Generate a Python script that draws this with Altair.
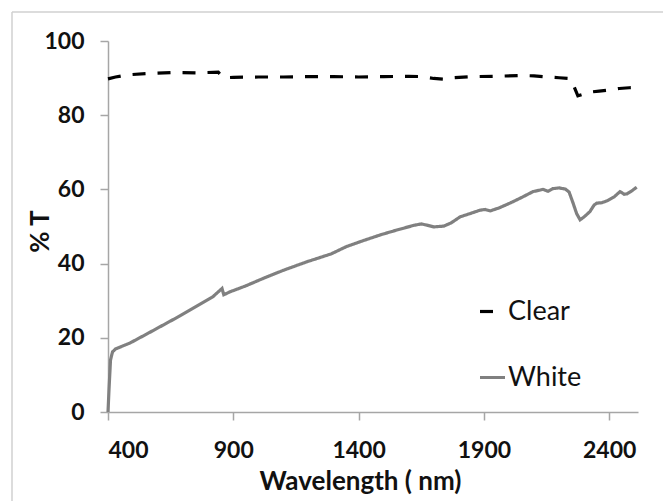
import altair as alt
import pandas as pd

clear_wl = [400, 430, 480, 550, 650, 750, 840, 860, 900, 1000, 1100, 1200, 1300, 1400, 1500,
            1600, 1650, 1700, 1745, 1780, 1850, 1950, 2050, 2100, 2150, 2200, 2240, 2255,
            2275, 2290, 2320, 2360, 2400, 2440, 2480, 2510]
clear_t = [89.8, 90.3, 90.9, 91.2, 91.5, 91.4, 91.6, 90.1, 90.2, 90.3, 90.3, 90.4, 90.4, 90.3, 90.4,
           90.5, 90.4, 89.9, 89.7, 90.1, 90.4, 90.5, 90.7, 90.6, 90.3, 90.1, 89.9, 88.5,
           85.2, 85.5, 86.2, 86.5, 86.8, 87.2, 87.4, 87.5]

white_wl = [400, 404, 410, 418, 430, 488, 554, 687, 819, 855, 862, 887, 950, 1019, 1100, 1194,
            1290, 1352, 1406, 1485, 1550, 1620, 1650, 1670, 1700, 1740, 1770, 1805, 1850, 1885,
            1905, 1925, 1960, 2004, 2050, 2096, 2136, 2156, 2175, 2200, 2225, 2240, 2256, 2270,
            2284, 2300, 2323, 2340, 2351, 2370, 2391, 2420, 2443, 2460, 2471, 2490, 2510]
white_t = [0, 6, 14, 16.2, 17.0, 18.6, 21.0, 25.9, 31.1, 33.3, 31.6, 32.4, 34.0, 36.0, 38.2, 40.5,
           42.6, 44.6, 45.9, 47.7, 49.0, 50.3, 50.7, 50.4, 49.9, 50.1, 51.0, 52.6, 53.6, 54.4,
           54.6, 54.2, 55.0, 56.3, 57.8, 59.4, 60.0, 59.5, 60.2, 60.4, 60.1, 59.3, 56.3, 53.5,
           51.8, 52.6, 54.0, 55.8, 56.3, 56.4, 56.9, 58.0, 59.4, 58.7, 58.8, 59.6, 60.6]

series = ["Clear", "White"]
x_ticks = [400, 900, 1400, 1900, 2400]
y_ticks = [0, 20, 40, 60, 80, 100]

df = pd.concat([
    pd.DataFrame({"wl": clear_wl, "t": clear_t, "s": "Clear"}),
    pd.DataFrame({"wl": white_wl, "t": white_t, "s": "White"}),
])

FONT = "Lato"
AXC = "#a6a6a6"

leg = dict(title=None, orient="none", legendX=370, legendY=256,
           symbolType="stroke", symbolSize=625, symbolStrokeWidth=3.2,
           labelFont=FONT, labelFontSize=27, labelColor="#111", labelOffset=1,
           rowPadding=38, padding=0)

lines = alt.Chart(df).mark_line(strokeWidth=3.2).encode(
    x=alt.X("wl:Q",
            scale=alt.Scale(domain=[400, 2515], nice=False, zero=False),
            axis=alt.Axis(values=x_ticks, format="d", title="Wavelength ( nm)", grid=False,
                          domainColor=AXC, domainWidth=1.5, tickColor=AXC, tickWidth=1.5,
                          tickSize=8, labelPadding=19, labelFontSize=23, labelFont=FONT,
                          labelFontWeight="bold", labelColor="#111",
                          titleFont=FONT, titleFontSize=26, titleFontWeight="bold",
                          titleColor="#111", titleX=252, titleY=77,
                          titleBaseline="alphabetic")),
    y=alt.Y("t:Q",
            scale=alt.Scale(domain=[0, 100], nice=False),
            axis=alt.Axis(values=y_ticks, title="% T", grid=False,
                          domainColor=AXC, domainWidth=1.5, tickColor=AXC, tickWidth=1.5,
                          tickSize=8, labelPadding=16, labelFontSize=23, labelFont=FONT,
                          labelFontWeight="bold", labelColor="#111",
                          titleFont=FONT, titleFontSize=26, titleFontWeight="bold",
                          titleColor="#111", titleAngle=270, titleX=-68, titleY=190,
                          titleBaseline="middle", titleAlign="center")),
    color=alt.Color("s:N", scale=alt.Scale(domain=series, range=["#000000", "#808080"]),
                    legend=alt.Legend(**leg)),
    strokeDash=alt.StrokeDash("s:N", scale=alt.Scale(domain=series, range=[[13, 12], [1, 0]]),
                              legend=alt.Legend(**leg)),
    order=alt.Order("wl:Q"),
)

frame_df = pd.DataFrame({"k": [0]})
frame_top = alt.Chart(frame_df).mark_rule(color="#d0d0d0", strokeWidth=1.5).encode(
    x=alt.value(-96), x2=alt.value(563), y=alt.value(-29))
frame_left = alt.Chart(frame_df).mark_rule(color="#d0d0d0", strokeWidth=1.5).encode(
    x=alt.value(-96), y=alt.value(-29), y2=alt.value(480))

chart = alt.layer(frame_top, frame_left, lines).properties(
    width=530, height=371,
    autosize=alt.AutoSizeParams(type="none"),
    padding={"left": 100, "top": 33, "right": 25, "bottom": 90},
    background="white",
).configure_view(stroke=None)

chart.save("out.html", embed_options={"renderer": "svg", "actions": False})
